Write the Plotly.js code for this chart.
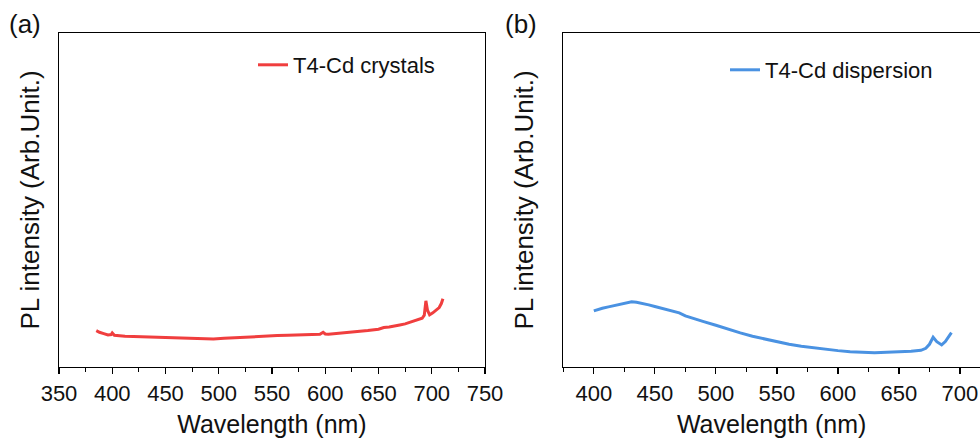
<!DOCTYPE html>
<html>
<head>
<meta charset="utf-8">
<script src="https://cdn.plot.ly/plotly-3.0.1.min.js"></script>
<style>html,body{margin:0;padding:0;background:#fff;}#chart{width:980px;height:438px;}</style>
</head>
<body>
<div id="chart"></div>
<script>
// Panel (a): T4-Cd crystals
const wavelengthA = [385, 388, 392, 396, 399, 400, 402, 406, 412, 420, 430, 440, 450, 460, 470, 480, 488, 495, 505, 515, 525, 535, 545, 555, 565, 575, 585, 595, 598, 600, 603, 610, 620, 630, 640, 650, 655, 660, 665, 670, 675, 680, 684, 688, 691, 693, 694.5, 696, 698, 701, 704, 707, 709, 710.5];
const intensityA = [10.9, 10.4, 10.0, 9.6, 9.7, 10.2, 9.5, 9.3, 9.2, 9.1, 9.0, 8.9, 8.8, 8.7, 8.6, 8.4, 8.3, 8.4, 8.6, 8.8, 9.0, 9.2, 9.3, 9.4, 9.5, 9.6, 9.7, 9.8, 10.4, 9.9, 9.8, 10.0, 10.2, 10.5, 10.9, 11.3, 11.8, 12.0, 12.2, 12.6, 12.9, 13.4, 13.9, 14.3, 14.6, 15.5, 19.8, 17.0, 15.6, 16.2, 17.0, 17.8, 19.0, 20.4];

// Panel (b): T4-Cd dispersion
const wavelengthB = [400, 403, 407, 412, 417, 422, 427, 431, 435, 440, 445, 450, 455, 460, 465, 470, 475, 480, 490, 500, 510, 520, 530, 540, 550, 560, 570, 580, 590, 600, 610, 620, 630, 640, 650, 660, 668, 672, 675, 678, 681, 685, 688, 690.5, 693];
const intensityB = [16.8, 17.2, 17.6, 18.0, 18.4, 18.8, 19.2, 19.5, 19.4, 19.1, 18.6, 18.1, 17.6, 17.1, 16.7, 16.2, 15.3, 14.8, 13.6, 12.5, 11.3, 10.2, 9.2, 8.4, 7.5, 6.8, 6.2, 5.7, 5.2, 4.9, 4.6, 4.4, 4.3, 4.4, 4.5, 4.7, 5.0, 5.6, 6.8, 8.9, 7.6, 6.6, 7.6, 8.8, 10.3];

const seriesNames = ['T4-Cd crystals', 'T4-Cd dispersion'];
const panelLabels = ['(a)', '(b)'];
const xTitle = 'Wavelength (nm)';
const yTitle = 'PL intensity (Arb.Unit.)';

const FONT = 'Liberation Sans, Arial, sans-serif';

const traces = [
  {x: wavelengthA, y: intensityA, type: 'scatter', mode: 'lines', name: seriesNames[0],
   line: {color: 'rgb(240,62,62)', width: 3}, xaxis: 'x', yaxis: 'y', legend: 'legend'},
  {x: wavelengthB, y: intensityB, type: 'scatter', mode: 'lines', name: seriesNames[1],
   line: {color: 'rgb(74,146,226)', width: 3}, xaxis: 'x2', yaxis: 'y2', legend: 'legend2'}
];

function xAxis(domain, range, tick0, anchor, mirror) {
  return {
    domain: domain, range: range, anchor: anchor,
    tick0: tick0, dtick: 50, ticks: 'outside', ticklen: 6, tickwidth: 1.2, tickcolor: '#000',
    minor: {dtick: 25, tick0: tick0, ticks: 'outside', ticklen: 3.5, tickwidth: 1.2, tickcolor: '#000'},
    showline: true, linecolor: '#000', linewidth: 1.3, mirror: mirror,
    showgrid: false, zeroline: false,
    tickfont: {family: FONT, size: 22, color: '#111'},
    title: {text: xTitle, font: {family: FONT, size: 25, color: '#111'}, standoff: 14}
  };
}
function yAxis(domain, anchor, mirror, standoff) {
  return {
    domain: domain, range: [0, 100], anchor: anchor,
    showticklabels: false, ticks: '', showgrid: false, zeroline: false,
    showline: true, linecolor: '#000', linewidth: 1.3, mirror: mirror,
    title: {text: yTitle, font: {family: FONT, size: 26, color: '#111'}, standoff: standoff}
  };
}

const yDom = [(438 - 367) / 438, (438 - 33) / 438];

const layout = {
  width: 980, height: 438,
  margin: {l: 0, r: 0, t: 0, b: 0},
  paper_bgcolor: '#fff', plot_bgcolor: '#fff',
  showlegend: true,
  xaxis: xAxis([59 / 980, 485 / 980], [350, 750], 350, 'y', true),
  yaxis: yAxis(yDom, 'x', true, 10),
  xaxis2: xAxis([563.3 / 980, 1], [375, 716.4], 400, 'y2', true),
  yaxis2: yAxis(yDom, 'x2', false, 21),
  legend: {x: 253 / 980, y: (438 - 65) / 438, xanchor: 'left', yanchor: 'middle',
           bgcolor: 'rgba(0,0,0,0)', font: {family: FONT, size: 22, color: '#111'}},
  legend2: {x: 725 / 980, y: (438 - 70) / 438, xanchor: 'left', yanchor: 'middle',
           bgcolor: 'rgba(0,0,0,0)', font: {family: FONT, size: 22, color: '#111'}},
  annotations: [
    {text: panelLabels[0], xref: 'paper', yref: 'paper', x: 25 / 980, y: (438 - 24) / 438,
     xanchor: 'center', yanchor: 'middle', showarrow: false, font: {family: FONT, size: 26, color: '#111'}},
    {text: panelLabels[1], xref: 'paper', yref: 'paper', x: 521 / 980, y: (438 - 24) / 438,
     xanchor: 'center', yanchor: 'middle', showarrow: false, font: {family: FONT, size: 26, color: '#111'}}
  ]
};

Plotly.newPlot('chart', traces, layout, {staticPlot: true, displayModeBar: false});
</script>
</body>
</html>
